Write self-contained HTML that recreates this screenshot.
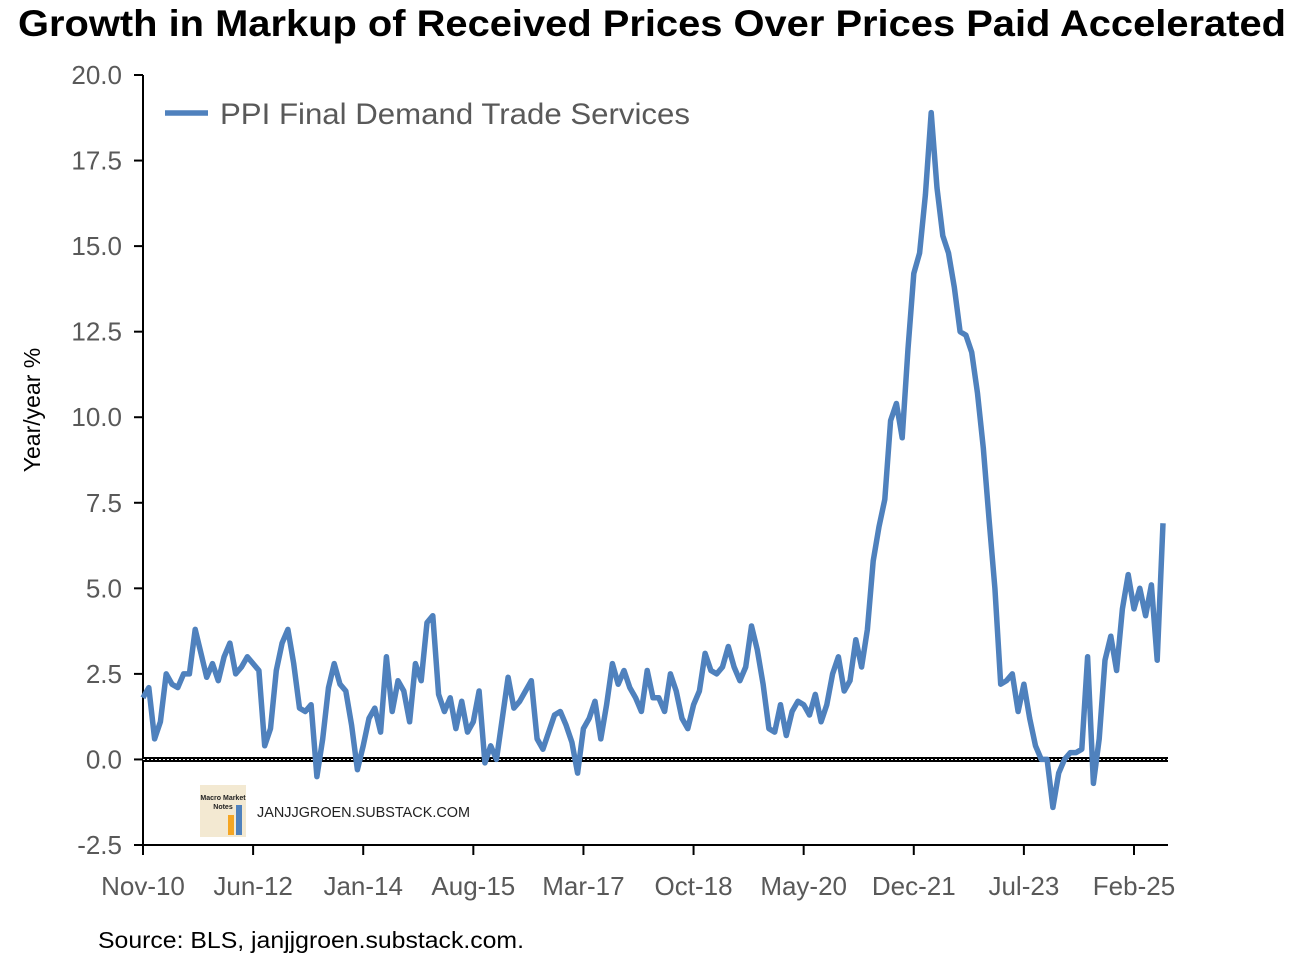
<!DOCTYPE html>
<html><head><meta charset="utf-8"><style>
body{margin:0;background:#fff;}
svg{display:block;font-family:"Liberation Sans",Arial,sans-serif;}
</style></head><body>
<svg width="1308" height="966">
<text x="18" y="36" textLength="1268" lengthAdjust="spacingAndGlyphs" font-size="37" font-weight="bold" fill="#000">Growth in Markup of Received Prices Over Prices Paid Accelerated</text>
<text transform="translate(40,410) rotate(-90)" text-anchor="middle" font-size="23" fill="#000">Year/year %</text>
<g id="axes"></g>
<g id="series"></g>
<line x1="165" y1="113" x2="208" y2="113" stroke="#4f81bd" stroke-width="5.5"/>
<text x="220" y="124" textLength="470" lengthAdjust="spacingAndGlyphs" font-size="30" fill="#595959">PPI Final Demand Trade Services</text>
<g>
<rect x="200" y="785" width="46" height="52" fill="#f3e9d2"/>
<rect x="228" y="815" width="6" height="20" fill="#f5a623"/>
<rect x="236" y="805" width="6" height="30" fill="#4f81bd"/>
<text x="223" y="800" font-size="7" font-weight="bold" text-anchor="middle" fill="#222">Macro Market</text>
<text x="223" y="809" font-size="7" font-weight="bold" text-anchor="middle" fill="#222">Notes</text>
</g>
<text x="257" y="817" textLength="213" lengthAdjust="spacingAndGlyphs" font-size="15" fill="#222">JANJJGROEN.SUBSTACK.COM</text>
<text x="98" y="948" textLength="426" lengthAdjust="spacingAndGlyphs" font-size="23" fill="#000">Source: BLS, janjjgroen.substack.com.</text>
</svg>
<script>
const values=[1.8,2.1,0.6,1.1,2.5,2.2,2.1,2.5,2.5,3.8,
3.1,2.4,2.8,2.3,3.0,3.4,2.5,2.7,3.0,2.8,
2.6,0.4,0.9,2.6,3.4,3.8,2.8,1.5,1.4,1.6,
-0.5,0.6,2.1,2.8,2.2,2.0,1.0,-0.3,0.4,1.2,
1.5,0.8,3.0,1.4,2.3,2.0,1.1,2.8,2.3,4.0,
4.2,1.9,1.4,1.8,0.9,1.7,0.8,1.1,2.0,-0.1,
0.4,0.0,1.2,2.4,1.5,1.7,2.0,2.3,0.6,0.3,
0.8,1.3,1.4,1.0,0.5,-0.4,0.9,1.2,1.7,0.6,
1.6,2.8,2.2,2.6,2.1,1.8,1.4,2.6,1.8,1.8,
1.4,2.5,2.0,1.2,0.9,1.6,2.0,3.1,2.6,2.5,
2.7,3.3,2.7,2.3,2.7,3.9,3.2,2.2,0.9,0.8,
1.6,0.7,1.4,1.7,1.6,1.3,1.9,1.1,1.6,2.5,
3.0,2.0,2.3,3.5,2.7,3.8,5.8,6.8,7.6,9.9,
10.4,9.4,12.0,14.2,14.8,16.5,18.9,16.7,15.3,14.8,
13.8,12.5,12.4,11.9,10.7,9.1,7.0,5.0,2.2,2.3,
2.5,1.4,2.2,1.2,0.4,0.0,0.0,-1.4,-0.4,0.0,
0.2,0.2,0.3,3.0,-0.7,0.6,2.9,3.6,2.6,4.4,
5.4,4.4,5.0,4.2,5.1,2.9,6.9];
const xTickLabels=["Nov-10","Jun-12","Jan-14","Aug-15","Mar-17","Oct-18","May-20","Dec-21","Jul-23","Feb-25"];
const yTicks=[-2.5,0,2.5,5,7.5,10,12.5,15,17.5,20];
const NS="http://www.w3.org/2000/svg";
const X0=143,PXM=(1134-143)/171,YT=75,YB=845,YMIN=-2.5,YMAX=20;
const x=i=>X0+i*PXM;
const y=v=>YB-(v-YMIN)/(YMAX-YMIN)*(YB-YT);
function mk(t,a,p){const e=document.createElementNS(NS,t);for(const k in a)e.setAttribute(k,a[k]);p.appendChild(e);return e;}
const ax=document.getElementById('axes');
let l=mk('line',{x1:X0,y1:YT,x2:X0,y2:YB,stroke:'#000','stroke-width':2},ax);


l=mk('line',{x1:X0,y1:YB,x2:1168,y2:YB,stroke:'#000','stroke-width':2},ax);


yTicks.forEach(v=>{
 const t=mk('line',{x1:X0-9,y1:y(v),x2:X0,y2:y(v),stroke:'#000','stroke-width':2},ax);
 
 
 const tx=mk('text',{x:X0-21,y:y(v)+9,'text-anchor':'end','font-size':26,fill:'#595959'},ax);
 tx.textContent=v.toFixed(1);
 
 
});
xTickLabels.forEach((s,k)=>{
 const xx=x(k*19);
 const t=mk('line',{x1:xx,y1:YB,x2:xx,y2:YB+10,stroke:'#000','stroke-width':2},ax);
 
 
 const tx=mk('text',{x:xx,y:895,'text-anchor':'middle','font-size':26,fill:'#595959'},ax);
 tx.textContent=s;
 
 
});
const z=mk('line',{x1:X0,y1:y(0),x2:1168,y2:y(0),stroke:'#000','stroke-width':5},ax);


const z2=mk('line',{x1:X0,y1:y(0),x2:1168,y2:y(0),stroke:'#fff','stroke-width':1,'stroke-dasharray':'2 2'},ax);


const sg=document.getElementById('series');
const p=mk('path',{d:values.map((v,i)=>(i?'L':'M')+x(i).toFixed(1)+','+y(v).toFixed(1)).join(''),fill:'none',stroke:'#4f81bd','stroke-width':5.5,'stroke-linejoin':'round'},sg);


</script>
</body></html>
